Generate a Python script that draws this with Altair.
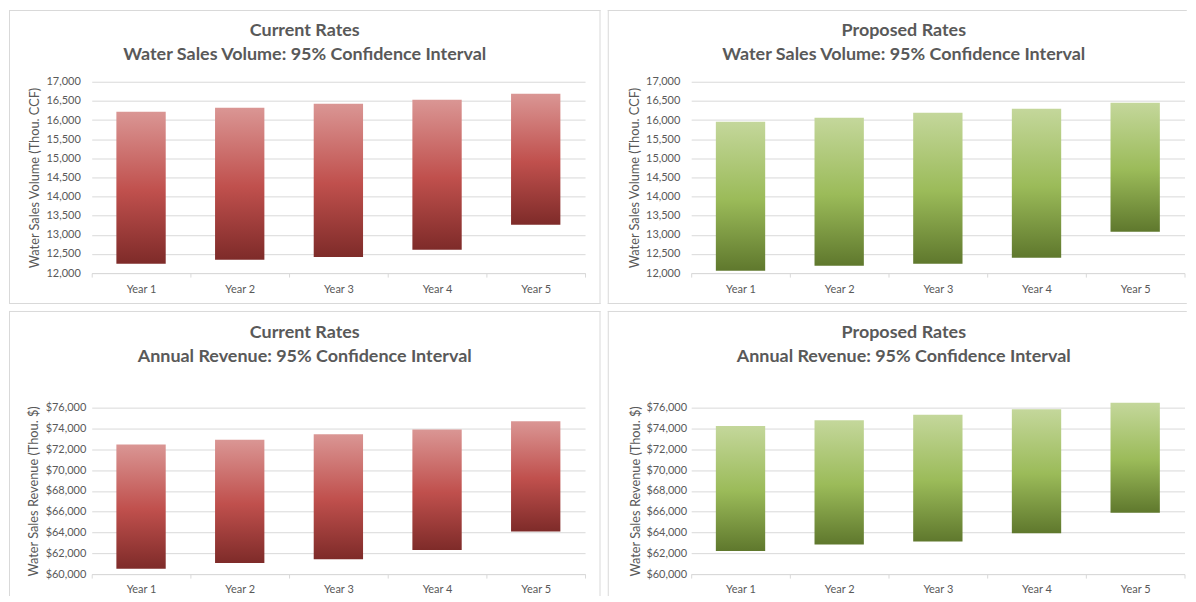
import altair as alt
import pandas as pd

YEARS = ["Year 1", "Year 2", "Year 3", "Year 4", "Year 5"]

CUR_VOL_LOW = [12245, 12350, 12420, 12610, 13265]
CUR_VOL_HIGH = [16215, 16320, 16425, 16530, 16685]
PRO_VOL_LOW = [12060, 12190, 12245, 12400, 13080]
PRO_VOL_HIGH = [15955, 16060, 16190, 16295, 16450]
CUR_REV_LOW = [60505, 61070, 61430, 62320, 64105]
CUR_REV_HIGH = [72460, 72905, 73440, 73890, 74690]
PRO_REV_LOW = [62230, 62855, 63125, 63925, 65890]
PRO_REV_HIGH = [74245, 74780, 75315, 75850, 76475]

VOL_TICKS = [12000, 12500, 13000, 13500, 14000, 14500, 15000, 15500, 16000, 16500, 17000]
REV_TICKS = [60000, 62000, 64000, 66000, 68000, 70000, 72000, 74000, 76000]

FONT = "Lato"
GRAY = "#595959"
GRID = "#d9d9d9"
M = 40  # invisible margin around each panel box (used only for layout)

RED = alt.Gradient(
    gradient="linear", x1=0, x2=0, y1=0, y2=1,
    stops=[alt.GradientStop(color="#da9694", offset=0),
           alt.GradientStop(color="#c0504d", offset=0.52),
           alt.GradientStop(color="#7e2b29", offset=1)])
GREEN = alt.Gradient(
    gradient="linear", x1=0, x2=0, y1=0, y2=1,
    stops=[alt.GradientStop(color="#c4d79b", offset=0),
           alt.GradientStop(color="#9bbb59", offset=0.52),
           alt.GradientStop(color="#5f782d", offset=1)])

ONE = pd.DataFrame({"k": [0]})


def edge(x, x2, y, y2):
    return alt.Chart(ONE).mark_rule(stroke=GRID, strokeWidth=1).encode(
        x=alt.value(x), x2=alt.value(x2), y=alt.value(y), y2=alt.value(y2))


def panel(low, high, title, ytitle, domain, ticks, fmt, fill, w, h, box, sides,
          label_pad, x_label_pad, ytitle_x, title_offset, title_dx):
    df = pd.DataFrame({"year": YEARS, "low": low, "high": high})
    bars = alt.Chart(df).mark_bar(fill=fill, width=alt.RelativeBandSize(0.5)).encode(
        x=alt.X("year:N", sort=YEARS, title=None,
                scale=alt.Scale(paddingInner=0, paddingOuter=0),
                axis=alt.Axis(labelAngle=0, domainColor=GRID, tickColor=GRID,
                              tickSize=4, tickBand="extent", labelPadding=x_label_pad,
                              labelFont=FONT, labelFontSize=11, labelColor=GRAY,
                              grid=False)),
        y=alt.Y("low:Q", title=ytitle,
                scale=alt.Scale(domain=domain, nice=False, zero=False),
                axis=alt.Axis(values=ticks, format=fmt, domain=False, ticks=False,
                              tickSize=0, labelPadding=label_pad, grid=True,
                              gridColor=GRID, labelFont=FONT, labelFontSize=11,
                              labelColor=GRAY, titleFont=FONT, titleFontSize=12.8,
                              titleColor=GRAY, titleFontWeight="normal",
                              titleX=ytitle_x, titleY=h / 2, titleAngle=270,
                              titleAlign="center", titleBaseline="middle")),
        y2="high:Q",
    )
    # invisible, oversized box: fixes each panel's extent for the grid layout
    frame = alt.Chart(ONE).mark_rect(fillOpacity=0, strokeOpacity=0).encode(
        x=alt.value(box[0] - M), x2=alt.value(box[1] + M),
        y=alt.value(box[2] - M), y2=alt.value(box[3] + M))
    edges = [edge(*s) for s in sides]
    return alt.layer(frame, *edges, bars).properties(
        width=w, height=h,
        title=alt.TitleParams(text=title, frame="bounds", anchor="middle",
                              offset=title_offset, dx=title_dx, font=FONT,
                              fontSize=18, fontWeight="bold", color=GRAY,
                              lineHeight=24))


p1 = panel(CUR_VOL_LOW, CUR_VOL_HIGH,
           ["Current Rates", "Water Sales Volume: 95% Confidence Interval"],
           "Water Sales Volume (Thou. CCF)", [12000, 17000], VOL_TICKS, ",d", RED,
           495, 192, [-83, 510.5, -72, 223],
           [(-82.5, -82.5, -72, 223), (-83, 510.5, -71.5, -71.5),
            (510, 510, -72, 223), (-83, 510.5, 222.5, 222.5)],
           11.5, 6, -57.5, -94, 0)
p2 = panel(PRO_VOL_LOW, PRO_VOL_HIGH,
           ["Proposed Rates", "Water Sales Volume: 95% Confidence Interval"],
           "Water Sales Volume (Thou. CCF)", [12000, 17000], VOL_TICKS, ",d", GREEN,
           495, 192, [-83.7, 497.3, -72, 223],
           [(-83.2, -83.2, -72, 223), (-83.7, 497.3, -71.5, -71.5),
            (-83.7, 497.3, 222.5, 222.5)],
           11.4, 6, -57.2, -94, 6.5)
p3 = panel(CUR_REV_LOW, CUR_REV_HIGH,
           ["Current Rates", "Annual Revenue: 95% Confidence Interval"],
           "Water Sales Revenue (Thou. $)", [60000, 76000], REV_TICKS, "$,d", RED,
           495, 167, [-83, 510.5, -97, 189],
           [(-82.5, -82.5, -97, 189), (-83, 510.5, -96.5, -96.5),
            (510, 510, -97, 189)],
           6, 5, -58, -95, 0)
p4 = panel(PRO_REV_LOW, PRO_REV_HIGH,
           ["Proposed Rates", "Annual Revenue: 95% Confidence Interval"],
           "Water Sales Revenue (Thou. $)", [60000, 76000], REV_TICKS, "$,d", GREEN,
           495, 167, [-83.7, 497.3, -97, 189],
           [(-83.2, -83.2, -97, 189), (-83.7, 497.3, -96.5, -96.5)],
           4.7, 5, -55.7, -95, 6.5)

chart = alt.concat(p1, p2, p3, p4, columns=2,
                   spacing={"row": 5 - 2 * M, "column": 5.5 - 2 * M}).properties(
    padding={"left": -M, "right": -M, "top": -M, "bottom": -M},
    background="white"
).configure_view(stroke="transparent")

chart.save("out.html", embed_options={"renderer": "svg", "actions": False})
